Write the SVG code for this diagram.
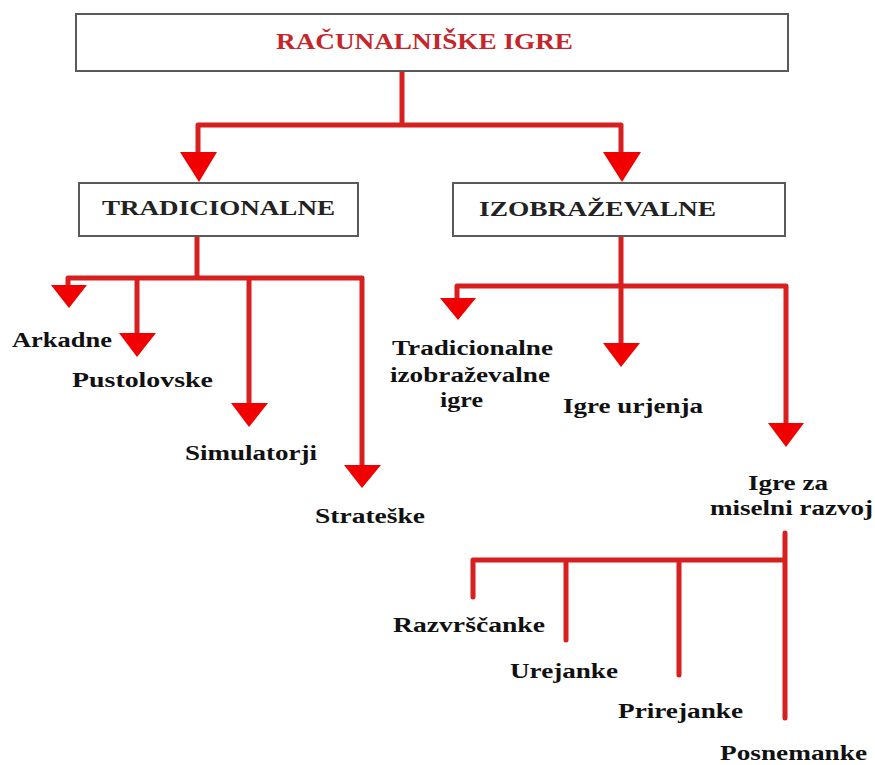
<svg xmlns="http://www.w3.org/2000/svg" width="875" height="765" viewBox="0 0 875 765">
<style>
.box{fill:#fff;stroke:#5a5a5a;stroke-width:2}
.title{font-family:"Liberation Serif",serif;font-weight:bold;font-size:24px;fill:#c4262b}
.bt{font-family:"Liberation Serif",serif;font-weight:bold;font-size:21px;fill:#222}
.lb{font-family:"Liberation Serif",serif;font-weight:bold;font-size:20px;fill:#111}
.ln{fill:none;stroke:#d71f1f;stroke-width:5;stroke-linecap:round;stroke-linejoin:miter}
.ar{fill:#f00000}
</style>
<rect width="875" height="765" fill="#fff"/>
<g id="connectors">
<path class="ln" d="M402,71 V125 M198,125 H621 M198,125 V154 M621,125 V154"/>
<path class="ar" d="M180,152 H217 L199,182 Z M603,152 H641 L622,182 Z"/>
<path class="ln" d="M197,236 V278 M68,278 H362 M68,278 V286 M137,278 V334 M249,278 V404 M362,278 V466"/>
<path class="ar" d="M51,285 H87 L69,308 Z M119,333 H156 L137,357 Z M231,403 H268 L249,427 Z M344,465 H381 L362,488 Z"/>
<path class="ln" d="M621,236 V286 M457,286 H786 M457,286 V299 M621,286 V344 M786,286 V424"/>
<path class="ar" d="M440,298 H476 L458,320 Z M603,343 H640 L621,367 Z M768,423 H804 L786,447 Z"/>
<path class="ln" d="M785,533 V718 M473,560 H785 M473,560 V597 M566,560 V640 M679,560 V675"/>
</g>
<g id="n-root">
<rect class="box" x="76" y="14" width="712" height="57"/>
<text class="title" x="276" y="49" textLength="297" lengthAdjust="spacingAndGlyphs">RAČUNALNIŠKE IGRE</text>
</g>
<g id="n-trad">
<rect class="box" x="79" y="183" width="279" height="53"/>
<text class="bt" x="102" y="215" textLength="233" lengthAdjust="spacingAndGlyphs">TRADICIONALNE</text>
</g>
<g id="n-izob">
<rect class="box" x="453" y="183" width="332" height="53"/>
<text class="bt" x="479" y="216" textLength="237" lengthAdjust="spacingAndGlyphs">IZOBRAŽEVALNE</text>
</g>
<g id="n-arkadne"><text class="lb" x="12" y="347" textLength="100" lengthAdjust="spacingAndGlyphs">Arkadne</text></g>
<g id="n-pustolovske"><text class="lb" x="72" y="387" textLength="141" lengthAdjust="spacingAndGlyphs">Pustolovske</text></g>
<g id="n-simulatorji"><text class="lb" x="185" y="460" textLength="132" lengthAdjust="spacingAndGlyphs">Simulatorji</text></g>
<g id="n-strateske"><text class="lb" x="315" y="523" textLength="110" lengthAdjust="spacingAndGlyphs">Strateške</text></g>
<g id="n-tradizob">
<text class="lb" x="392" y="355" textLength="161" lengthAdjust="spacingAndGlyphs">Tradicionalne</text>
<text class="lb" x="390" y="382" textLength="160" lengthAdjust="spacingAndGlyphs">izobraževalne</text>
<text class="lb" x="440" y="407" textLength="43" lengthAdjust="spacingAndGlyphs">igre</text>
</g>
<g id="n-urjenja"><text class="lb" x="563" y="413" textLength="140" lengthAdjust="spacingAndGlyphs">Igre urjenja</text></g>
<g id="n-miselni">
<text class="lb" x="748" y="490" textLength="80" lengthAdjust="spacingAndGlyphs">Igre za</text>
<text class="lb" x="710" y="515" textLength="163" lengthAdjust="spacingAndGlyphs">miselni razvoj</text>
</g>
<g id="n-razvrscanke"><text class="lb" x="393" y="632" textLength="152" lengthAdjust="spacingAndGlyphs">Razvrščanke</text></g>
<g id="n-urejanke"><text class="lb" x="510" y="678" textLength="108" lengthAdjust="spacingAndGlyphs">Urejanke</text></g>
<g id="n-prirejanke"><text class="lb" x="618" y="718" textLength="125" lengthAdjust="spacingAndGlyphs">Prirejanke</text></g>
<g id="n-posnemanke"><text class="lb" x="720" y="760" textLength="147" lengthAdjust="spacingAndGlyphs">Posnemanke</text></g>
</svg>
